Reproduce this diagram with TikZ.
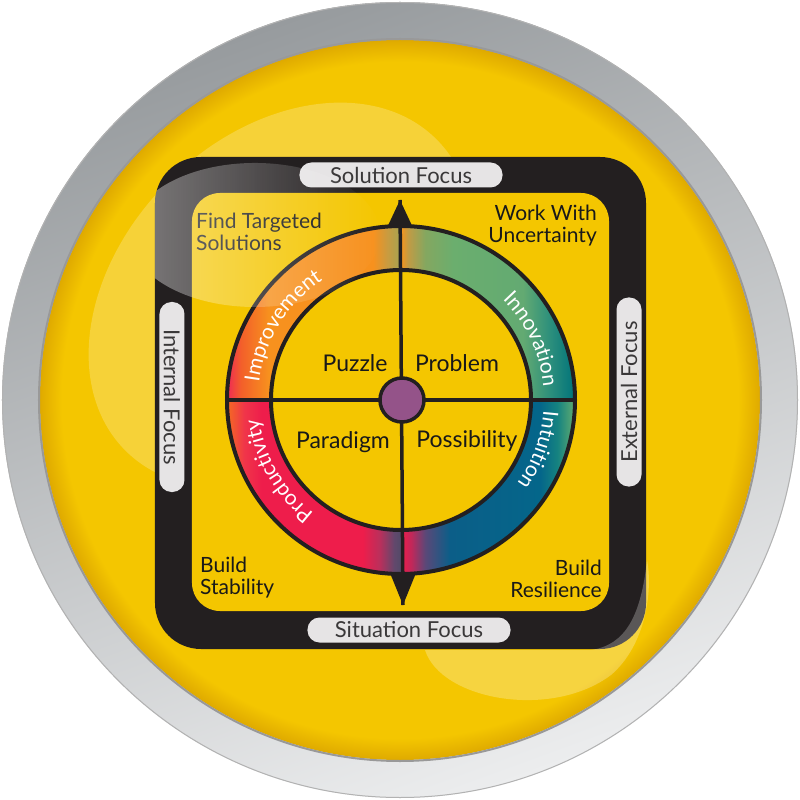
\documentclass[tikz,border=0pt]{standalone}
\usepackage{fontspec}
\setmainfont{Lato}
\usepackage{xcolor}
\usepackage{tikz}
\usetikzlibrary{decorations.text, fadings}

\definecolor{ylw}{HTML}{F4C600}
\definecolor{ylwdark}{HTML}{DFAA00}
\definecolor{framecol}{HTML}{231F20}
\definecolor{pillcol}{HTML}{E6E4E5}
\definecolor{pilltext}{HTML}{3A3839}
\definecolor{hubcol}{HTML}{945389}
\definecolor{silverA}{HTML}{979B9E}
\definecolor{silverB}{HTML}{ECEDEE}

% ring colours
\definecolor{impA}{HTML}{EF2A55}
\definecolor{impB}{HTML}{F35F2A}
\definecolor{impC}{HTML}{F7911E}
\definecolor{impD}{HTML}{C99B40}
\definecolor{impE}{HTML}{A6A351}
\definecolor{innA}{HTML}{F7941D}
\definecolor{innB}{HTML}{C29B44}
\definecolor{innC}{HTML}{84A760}
\definecolor{innD}{HTML}{6BAE6E}
\definecolor{innE}{HTML}{63AA72}
\definecolor{innF}{HTML}{2B8E7C}
\definecolor{innG}{HTML}{00737A}
\definecolor{intA}{HTML}{EE1C4B}
\definecolor{intB}{HTML}{C0285A}
\definecolor{intC}{HTML}{5A4878}
\definecolor{intD}{HTML}{0B5E88}
\definecolor{intE}{HTML}{04668A}
\definecolor{intF}{HTML}{168380}
\definecolor{intG}{HTML}{62AD70}
\definecolor{proA}{HTML}{F46A22}
\definecolor{proB}{HTML}{F0354A}
\definecolor{proC}{HTML}{EE1D4B}
\definecolor{proD}{HTML}{B8305C}
\definecolor{proE}{HTML}{62486C}
\definecolor{proF}{HTML}{524A68}

\pgfdeclarehorizontalshading{improveshade}{100bp}{color(0bp)=(impA); color(25bp)=(impA); color(29bp)=(impB); color(37bp)=(impC); color(67bp)=(impC); color(71bp)=(impD); color(75bp)=(impE); color(100bp)=(impE)}
\pgfdeclarehorizontalshading{innovshade}{100bp}{color(0bp)=(innA); color(25bp)=(innA); color(27bp)=(innB); color(32bp)=(innC); color(40bp)=(innD); color(60bp)=(innE); color(68bp)=(innF); color(75bp)=(innG); color(100bp)=(innG)}
\pgfdeclarehorizontalshading{intuitshade}{100bp}{color(0bp)=(intA); color(25bp)=(intA); color(28bp)=(intB); color(32bp)=(intC); color(39bp)=(intD); color(65bp)=(intE); color(70bp)=(intF); color(75bp)=(intG); color(100bp)=(intG)}
\pgfdeclarehorizontalshading{prodshade}{100bp}{color(0bp)=(proA); color(25bp)=(proA); color(30bp)=(proB); color(35bp)=(proC); color(64bp)=(proC); color(69bp)=(proD); color(73bp)=(proE); color(75bp)=(proF); color(100bp)=(proF)}
\pgfdeclareradialshading{diskshade}{\pgfpoint{0bp}{0bp}}{color(0bp)=(ylw); color(23.5bp)=(ylw); color(25bp)=(ylwdark); color(50bp)=(ylwdark)}

\newcommand\pillfont{\fontsize{22}{22}\selectfont}
\newcommand\cornerfont{\fontsize{21}{22}\selectfont}
\newcommand\quadfont{\fontsize{23}{23}\selectfont}
\newcommand\ringfont{\fontsize{21}{21}\selectfont}

\tikzset{
    pill/.style={fill=pillcol, rounded corners=12pt, minimum height=25pt, inner sep=0pt, text=pilltext, font=\pillfont},
    corner/.style={inner sep=0pt, font=\cornerfont, text=black!90},
    quad/.style={inner sep=0pt, anchor=base, font=\quadfont, text=black!90},
    ringline/.style={draw=framecol, line width=4pt},
    hub/.style={circle, fill=hubcol, draw=framecol, line width=3.5pt, minimum size=44pt, inner sep=0pt},
    ringlabel/.style={decorate, decoration={text along path, text={|\ringfont|#1}, text align=center, text color=white}}
}

\begin{document}
\begin{tikzpicture}[x=1pt, y=1pt]
    \useasboundingbox (-401,-400) rectangle (399,400);
    \def\ringout{174}
    \def\ringin{130}

    % Badge
    \shade[top color=silverA, bottom color=silverB, shading angle=20] (-1,0) circle (398);
    \draw[black!30, line width=1pt] (-1,0) circle (397.5);
    \shade[shading=diskshade] (-1,0) circle (360);
    \draw[black!40, line width=2pt] (-1,0) circle (361);
    \fill[white, fill opacity=0.22, rotate around={45:(-120,105)}] (-120,105) ellipse [x radius=220, y radius=160];

    % Frame
    \fill[framecol, rounded corners=46pt] (-246,-249) rectangle (245,243);
    \fill[ylw, rounded corners=28pt] (-209,-211) rectangle (208,207);

    \node[pill, minimum width=203pt] (solution) at (0,225) {Solution Focus};
    \node[pill, minimum width=203pt] (situation) at (8,-230) {Situation Focus};
    \node[pill, minimum width=190pt, rotate=-90] (internal) at (-229,3) {Internal Focus};
    \node[pill, minimum width=189pt, rotate=90] (external) at (228,8) {External Focus};

    % Axis tips
    \coordinate (north tip) at (-1,200);
    \coordinate (south tip) at (2,-205);
    \coordinate (west rim) at (-\ringout,0);
    \coordinate (east rim) at (\ringout,0);
    \fill[framecol] (-16,168) -- (north tip) -- (14,168) -- cycle;
    \fill[framecol] (-13,-168) -- (south tip) -- (17,-168) -- cycle;

    % Ring
    \shade[shading=improveshade] (180:\ringout) arc[start angle=180, end angle=90, radius=\ringout] -- (90:\ringin) arc[start angle=90, end angle=180, radius=\ringin] -- cycle;
    \shade[shading=innovshade] (90:\ringout) arc[start angle=90, end angle=0, radius=\ringout] -- (0:\ringin) arc[start angle=0, end angle=90, radius=\ringin] -- cycle;
    \shade[shading=intuitshade] (0:\ringout) arc[start angle=0, end angle=-90, radius=\ringout] -- (-90:\ringin) arc[start angle=-90, end angle=0, radius=\ringin] -- cycle;
    \shade[shading=prodshade] (-90:\ringout) arc[start angle=-90, end angle=-180, radius=\ringout] -- (180:\ringin) arc[start angle=180, end angle=270, radius=\ringin] -- cycle;
    \draw[ringline] (0,0) circle (\ringout);
    \draw[ringline] (0,0) circle (\ringin);
    \draw[ringline, line width=3.5pt] (north tip) -- (south tip);
    \draw[ringline, line width=3.5pt] (west rim) -- (east rim);
    \node[hub] (hub) at (1,0) {};

    \path[ringlabel=Improvement] (188:143) arc[start angle=188, end angle=108, radius=143];
    \path[ringlabel=Innovation] (65:143) arc[start angle=65, end angle=-15, radius=143];
    \path[ringlabel=Intuition] (20:143) arc[start angle=20, end angle=-60, radius=143];
    \path[ringlabel=Productivity] (250:143) arc[start angle=250, end angle=170, radius=143];

    \node[quad] (puzzle) at (-46,28) {Puzzle};
    \node[quad] (problem) at (56,28) {Problem};
    \node[quad] (paradigm) at (-58,-48) {Paradigm};
    \node[quad] (possibility) at (66,-47) {Possibility};

    % Corner notes
    \node[corner, anchor=north west, align=left] (targeted) at (-205,187) {Find Targeted\\Solutions};
    \node[corner, anchor=north east, align=right] (uncertainty) at (196,195) {Work With\\Uncertainty};
    \node[corner, anchor=north west, align=left] (stability) at (-201,-157) {Build\\Stability};
    \node[corner, anchor=north east, align=right] (resilience) at (201,-160) {Build\\Resilience};

    % Gloss
    \begin{scope}
        \clip[rounded corners=46pt] (-246,-249) rectangle (245,243);
        \fill[white, fill opacity=0.42, path fading=east] (-146,165) ellipse [x radius=125, y radius=72];
    \end{scope}
    \fill[white, fill opacity=0.25] (24,-250) .. controls (40,-300) and (150,-320) .. (210,-275) .. controls (245,-245) and (252,-190) .. (246,-160) .. controls (240,-215) and (225,-245) .. (190,-250) -- cycle;
\end{tikzpicture}
\end{document}
